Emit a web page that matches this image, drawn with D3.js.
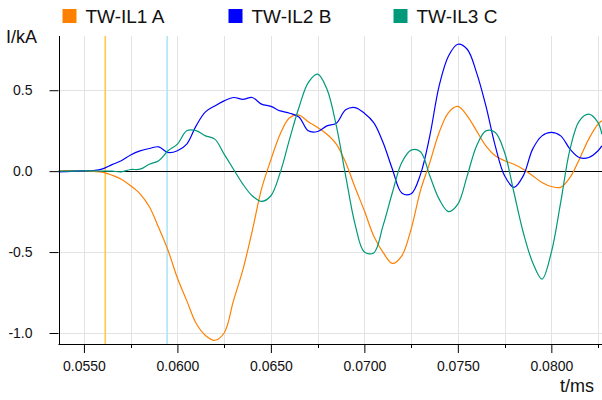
<!DOCTYPE html>
<html>
<head>
<meta charset="utf-8">
<script src="https://cdn.jsdelivr.net/npm/d3@7"></script>
<style>
  body { margin: 0; background: #fff; }
  svg { display: block; font-family: "Liberation Sans", Arial, sans-serif; }
</style>
</head>
<body>
<div id="chart"></div>
<script>
const width = 602, height = 400;

// time samples (ms) shared by all three traces
const times = [0.0536, 0.0540, 0.0545, 0.0550, 0.0555, 0.0560, 0.0565, 0.0570, 0.0575, 0.0580,
  0.0585, 0.0590, 0.0595, 0.0600, 0.0605, 0.0610, 0.0615, 0.0620, 0.0625, 0.0630,
  0.0635, 0.0640, 0.0645, 0.0650, 0.0655, 0.0660, 0.0665, 0.0670, 0.0675, 0.0680,
  0.0685, 0.0690, 0.0695, 0.0700, 0.0705, 0.0710, 0.0715, 0.0720, 0.0725, 0.0730,
  0.0735, 0.0740, 0.0745, 0.0750, 0.0755, 0.0760, 0.0765, 0.0770, 0.0775, 0.0780,
  0.0785, 0.0790, 0.0795, 0.0800, 0.0805, 0.0810, 0.0815, 0.0820, 0.0825, 0.0827];

// currents (kA)
const seriesA = [0, 0.003, 0.002, 0, -0.002, -0.006, -0.025, -0.05, -0.09, -0.14,
  -0.22, -0.35, -0.49, -0.66, -0.80, -0.94, -1.015, -1.045, -1.0, -0.80,
  -0.61, -0.37, -0.11, 0.07, 0.23, 0.33, 0.346, 0.305, 0.27, 0.228,
  0.167, 0.053, -0.10, -0.245, -0.40, -0.502, -0.57, -0.523, -0.358, -0.12,
  0.053, 0.239, 0.362, 0.40, 0.342, 0.249, 0.156, 0.095, 0.064, 0.043,
  0.012, -0.029, -0.07, -0.095, -0.10, -0.039, 0.074, 0.198, 0.29, 0.311];

const seriesB = [-0.004, -0.003, 0, 0.002, 0.004, 0.014, 0.04, 0.064, 0.10, 0.125,
  0.14, 0.15, 0.115, 0.126, 0.167, 0.28, 0.366, 0.403, 0.434, 0.455,
  0.444, 0.455, 0.414, 0.40, 0.372, 0.358, 0.335, 0.249, 0.245, 0.28,
  0.296, 0.379, 0.393, 0.358, 0.30, 0.177, 0.012, -0.135, -0.14, -0.02,
  0.218, 0.527, 0.712, 0.784, 0.753, 0.609, 0.403, 0.156, -0.029, -0.10,
  -0.029, 0.136, 0.218, 0.239, 0.218, 0.136, 0.084, 0.084, 0.126, 0.156];

const seriesC = [0, 0, 0, 0.002, 0.002, 0, 0, -0.004, 0.01, 0.012,
  0.043, 0.064, 0.126, 0.167, 0.249, 0.25, 0.218, 0.198, 0.105, 0.012,
  -0.08, -0.152, -0.187, -0.152, -0.008, 0.198, 0.393, 0.547, 0.599, 0.506,
  0.28, -0.029, -0.327, -0.50, -0.505, -0.337, -0.132, 0.053, 0.13, 0.12,
  -0.029, -0.173, -0.25, -0.204, -0.029, 0.156, 0.249, 0.239, 0.115, -0.132,
  -0.379, -0.564, -0.667, -0.502, -0.193, 0.136, 0.311, 0.352, 0.30, 0.228];

const seriesNames = ['TW-IL1 A', 'TW-IL2 B', 'TW-IL3 C'];
const seriesColors = ['#ff8000', '#0000ff', '#00997a'];

const xTicks = [0.0550, 0.0600, 0.0650, 0.0700, 0.0750, 0.0800];
const xMinorTicks = [0.0575, 0.0625, 0.0675, 0.0725, 0.0775, 0.0825];
const yTicks = [-1.0, -0.5, 0.0, 0.5];

// cursor markers
const cursors = [
  {t: 0.05614, color: '#ffc94d'},
  {t: 0.05945, color: '#aee6f8'}
];

const plot = {left: 58.5, right: 602, top: 36, bottom: 344};

const x = d3.scaleLinear().domain([0.05364, 0.08271]).range([plot.left, plot.right]);
const y = d3.scaleLinear().domain([-1.068, 0.835]).range([plot.bottom, plot.top]);

const svg = d3.select('#chart').append('svg')
  .attr('width', width).attr('height', height);

const px = v => Math.round(v) + 0.5;

svg.append('clipPath').attr('id', 'clip')
  .append('rect')
  .attr('x', plot.left).attr('y', plot.top)
  .attr('width', plot.right - plot.left).attr('height', plot.bottom - plot.top);

// grid
const grid = svg.append('g').attr('stroke', '#e3e3e3').attr('stroke-width', 1);
grid.selectAll('line.v')
  .data(xTicks.concat(xMinorTicks).filter(t => x(t) < plot.right))
  .join('line')
  .attr('x1', d => px(x(d))).attr('x2', d => px(x(d)))
  .attr('y1', plot.top).attr('y2', plot.bottom);
grid.selectAll('line.h')
  .data(yTicks.filter(v => v !== 0))
  .join('line')
  .attr('x1', plot.left).attr('x2', plot.right)
  .attr('y1', d => px(y(d))).attr('y2', d => px(y(d)));

// cursors
svg.append('g').selectAll('line')
  .data(cursors)
  .join('line')
  .attr('x1', d => x(d.t)).attr('x2', d => x(d.t))
  .attr('y1', plot.top).attr('y2', plot.bottom)
  .attr('stroke', d => d.color).attr('stroke-width', 1.6);

// zero line
svg.append('line')
  .attr('x1', plot.left).attr('x2', plot.right)
  .attr('y1', px(y(0))).attr('y2', px(y(0)))
  .attr('stroke', '#000').attr('stroke-width', 1);

// traces
const line = d3.line()
  .x((d, i) => x(times[i]))
  .y(d => y(d))
  .curve(d3.curveCatmullRom.alpha(0.5));

svg.append('g').attr('clip-path', 'url(#clip)')
  .selectAll('path')
  .data([seriesA, seriesB, seriesC])
  .join('path')
  .attr('d', d => line(d))
  .attr('fill', 'none')
  .attr('stroke', (d, i) => seriesColors[i])
  .attr('stroke-width', 1.2)
  .attr('stroke-linejoin', 'round');

// axes
const xAxis = svg.append('g')
  .attr('transform', `translate(0,${plot.bottom})`)
  .call(d3.axisBottom(x).tickValues(xTicks).tickFormat(d => d.toFixed(4)).tickSize(9).tickPadding(8));
xAxis.select('.domain').remove();
xAxis.selectAll('.tick text').attr('font-size', 14).attr('font-family', '"Liberation Sans", Arial, sans-serif').attr('fill', '#111');

svg.append('g')
  .attr('transform', `translate(0,${plot.bottom})`)
  .selectAll('line')
  .data(xMinorTicks)
  .join('line')
  .attr('x1', d => px(x(d))).attr('x2', d => px(x(d)))
  .attr('y1', 0).attr('y2', 4)
  .attr('stroke', '#000');

svg.append('line')
  .attr('x1', plot.left).attr('x2', plot.right)
  .attr('y1', px(plot.bottom)).attr('y2', px(plot.bottom))
  .attr('stroke', '#000');

const yAxis = svg.append('g')
  .attr('transform', `translate(${plot.left},0)`)
  .call(d3.axisLeft(y).tickValues(yTicks).tickFormat(d => d.toFixed(1)).tickSize(9).tickPadding(17));
yAxis.select('.domain').remove();
yAxis.selectAll('.tick text').attr('font-size', 14).attr('font-family', '"Liberation Sans", Arial, sans-serif').attr('fill', '#111');

svg.append('line')
  .attr('x1', px(plot.left)).attr('x2', px(plot.left))
  .attr('y1', plot.top).attr('y2', plot.bottom)
  .attr('stroke', '#000');

// axis titles
svg.append('text').attr('x', 6).attr('y', 43)
  .attr('font-size', 18).attr('fill', '#111').text('I/kA');
svg.append('text').attr('x', 594).attr('y', 392)
  .attr('text-anchor', 'end')
  .attr('font-size', 18).attr('fill', '#111').text('t/ms');

// legend
const legendX = [62.5, 228.5, 393.5];
const legend = svg.append('g').selectAll('g')
  .data(seriesNames)
  .join('g')
  .attr('transform', (d, i) => `translate(${legendX[i]},0)`);
legend.append('rect')
  .attr('x', 0).attr('y', 9).attr('width', 14).attr('height', 14)
  .attr('fill', (d, i) => seriesColors[i]);
legend.append('text')
  .attr('x', 23).attr('y', 23)
  .attr('font-size', 19).attr('fill', '#111')
  .text(d => d);
</script>
</body>
</html>
